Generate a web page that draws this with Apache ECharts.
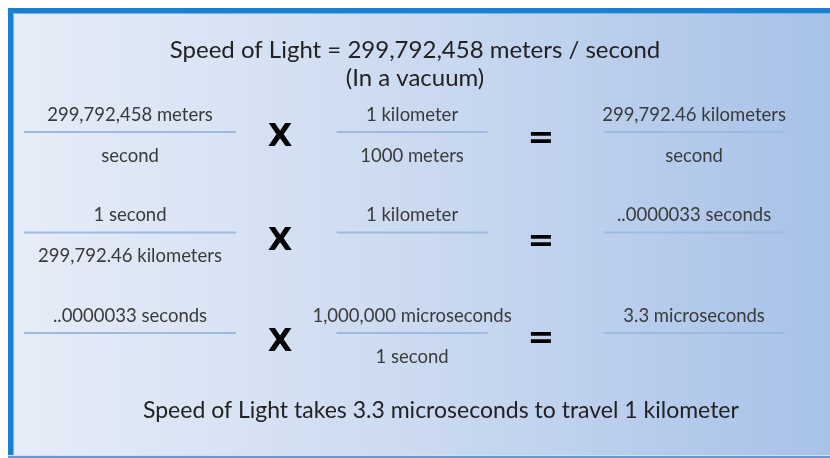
<!DOCTYPE html>
<html>
<head>
<meta charset="utf-8">
<script src="https://cdn.jsdelivr.net/npm/echarts@6/dist/echarts.min.js"></script>
<style>
  html, body { margin: 0; padding: 0; background: #ffffff; }
  #main { width: 830px; height: 458px; }
</style>
</head>
<body>
<div id="main"></div>
<script>
// slide text, kept as plain arrays
const titleLines = ['Speed of Light = 299,792,458 meters / second', '(In a vacuum)'];
const conclusion = 'Speed of Light takes 3.3 microseconds to travel 1 kilometer';

// one fraction per [column, row]; column 0..2, row 0..2
const fractionCols = [0, 1, 2, 0, 1, 2, 0, 1, 2];
const fractionRows = [0, 0, 0, 1, 1, 1, 2, 2, 2];
const numerators = [
  '299,792,458 meters', '1 kilometer', '299,792.46 kilometers',
  '1 second', '1 kilometer', '..0000033 seconds',
  '..0000033 seconds', '1,000,000 microseconds', '3.3 microseconds'
];
const denominators = [
  'second', '1000 meters', 'second',
  '299,792.46 kilometers', '', '',
  '', '1 second', ''
];

// operators between the fractions
const operatorSymbols = ['X', '=', 'X', '=', 'X', '='];
const operatorCols = [0.532, 1.457, 0.532, 1.457, 0.532, 1.457];
const operatorRows = [0.06, 0.08, 1.09, 1.1, 2.1, 2.07];

var chart = echarts.init(document.getElementById('main'));

var fractionData = numerators.map(function (n, i) {
  return [fractionCols[i], fractionRows[i], n, denominators[i]];
});
var operatorData = operatorSymbols.map(function (s, i) {
  return [operatorCols[i], operatorRows[i], s];
});

// width of the fraction bar per column
var barWidths = [212, 151, 181];
var textColor = '#3a3a3a';
var fontFamily = 'Lato, "Open Sans", sans-serif';

chart.setOption({
  backgroundColor: '#ffffff',
  animation: false,
  graphic: [
    {
      type: 'rect',
      shape: { x: 8, y: 8, width: 830, height: 450 },
      style: {
        fill: new echarts.graphic.LinearGradient(0, 0, 1, 0, [
          { offset: 0, color: '#e7edf8' },
          { offset: 0.5, color: '#cbdaf0' },
          { offset: 1, color: '#a7c1e8' }
        ])
      },
      z: -10
    },
    { type: 'rect', shape: { x: 8, y: 8, width: 830, height: 5 }, style: { fill: '#1a80d2' }, z: -5 },
    { type: 'rect', shape: { x: 8, y: 8, width: 5, height: 450 }, style: { fill: '#1a80d2' }, z: -5 },
    { type: 'rect', shape: { x: 13, y: 13, width: 817, height: 1 }, style: { fill: '#7fb3e6' }, z: -5 },
    { type: 'rect', shape: { x: 13, y: 13, width: 1, height: 445 }, style: { fill: '#7fb3e6' }, z: -5 },
    { type: 'rect', shape: { x: 8, y: 455, width: 830, height: 1 }, style: { fill: '#cfe0f3' }, z: -5 },
    { type: 'rect', shape: { x: 8, y: 456, width: 830, height: 2 }, style: { fill: '#5d9ad8' }, z: -5 }
  ],
  title: [
    {
      text: titleLines[0],
      left: 'center',
      top: 33,
      textStyle: { fontFamily: fontFamily, fontSize: 24, fontWeight: 'normal', color: '#222' }
    },
    {
      text: titleLines[1],
      left: 'center',
      top: 61,
      textStyle: { fontFamily: fontFamily, fontSize: 24, fontWeight: 'normal', color: '#222' }
    },
    {
      text: conclusion,
      left: 143,
      top: 399,
      padding: 0,
      textStyle: { fontFamily: fontFamily, fontSize: 23, fontWeight: 'normal', color: '#222' }
    }
  ],
  grid: { left: 0, right: 0, top: 0, bottom: 0 },
  xAxis: {
    type: 'value', min: -0.461, max: 2.482, show: false
  },
  yAxis: {
    type: 'value', min: -1.313, max: 3.244, inverse: true, show: false
  },
  series: [
    {
      type: 'custom',
      data: fractionData,
      renderItem: function (params, api) {
        var p = api.coord([api.value(0), api.value(1)]);
        var col = api.value(0);
        var half = barWidths[col] / 2;
        var kids = [
          {
            type: 'line',
            shape: { x1: p[0] - half, y1: p[1], x2: p[0] + half, y2: p[1] },
            style: { stroke: '#9cbbe2', lineWidth: 2 }
          },
          {
            type: 'text',
            style: {
              text: api.value(2), x: p[0], y: p[1] - 17,
              align: 'center', verticalAlign: 'middle',
              font: '18.5px ' + fontFamily, fill: textColor
            }
          }
        ];
        var den = api.value(3);
        if (den) {
          kids.push({
            type: 'text',
            style: {
              text: den, x: p[0], y: p[1] + 24,
              align: 'center', verticalAlign: 'middle',
              font: '18.5px ' + fontFamily, fill: textColor
            }
          });
        }
        return { type: 'group', children: kids };
      }
    },
    {
      type: 'custom',
      data: operatorData,
      renderItem: function (params, api) {
        var p = api.coord([api.value(0), api.value(1)]);
        return {
          type: 'text',
          style: {
            text: operatorSymbols[params.dataIndex], x: p[0], y: p[1],
            align: 'center', verticalAlign: 'middle',
            font: 'bold 32px "DejaVu Sans", "Liberation Sans", sans-serif',
            fill: '#000'
          }
        };
      }
    }
  ]
});
</script>
</body>
</html>
